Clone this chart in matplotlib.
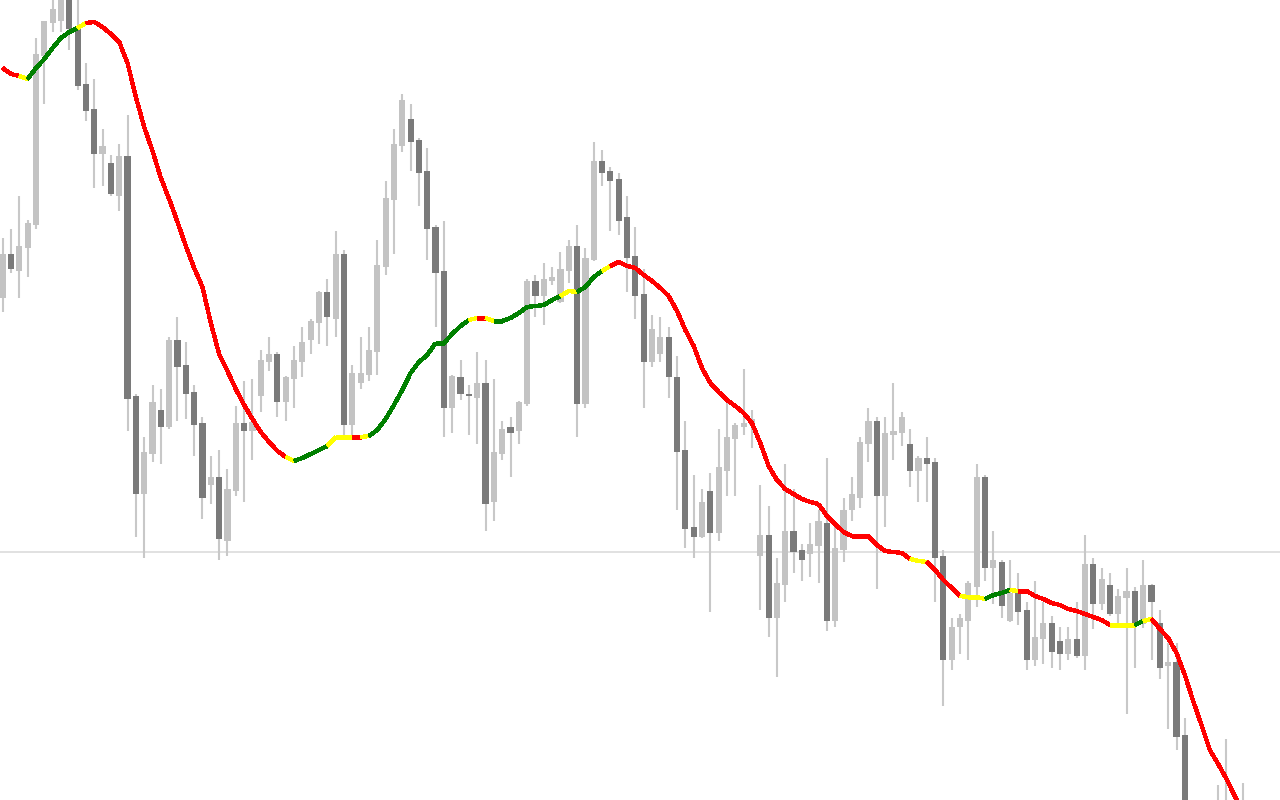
import numpy as np
import matplotlib
matplotlib.use("Agg")
import matplotlib.pyplot as plt
from matplotlib.collections import LineCollection

# OHLC per bar (arbitrary price points)
opens = [502, 546, 529, 552, 575, 744, 777, 779, 803, 772,
         716, 691, 646, 637, 604, 644, 404, 306, 346, 390,
         373, 460, 435, 408, 377, 315, 323, 259, 309, 377,
         369, 404, 438, 446, 398, 421, 438, 460, 477, 508,
         481, 546, 375, 417, 425, 448, 533, 600, 654, 681,
         660, 629, 573, 529, 392, 423, 406, 402, 417, 298,
         346, 373, 369, 396, 519, 504, 519, 498, 529, 554,
         396, 540, 639, 629, 621, 583, 544, 506, 438, 446,
         463, 423, 350, 273, 263, 309, 267, 329, 361, 373,
         375, 244, 265, 182, 215, 269, 250, 246, 254, 277,
         179, 250, 290, 302, 356, 379, 304, 365, 367, 356,
         329, 342, 338, 244, 140, 173, 179, 213, 323, 232,
         238, 179, 207, 190, 140, 161, 177, 159, 146, 161,
         144, 236, 196, 215, 186, 202, 209, 176, 215, 177,
         134, 138, 65, -30, -60, -80, -80, -30, -20, -50]
highs = [562, 571, 604, 580, 762, 779, 803, 806, 806, 804,
         737, 721, 671, 645, 656, 685, 406, 363, 415, 411,
         463, 483, 458, 415, 383, 344, 350, 331, 394, 419,
         421, 450, 463, 448, 424, 454, 473, 481, 509, 521,
         569, 550, 435, 463, 473, 560, 619, 671, 706, 696,
         662, 652, 575, 579, 425, 440, 415, 448, 440, 421,
         379, 383, 399, 521, 525, 537, 533, 548, 560, 575,
         552, 658, 650, 633, 627, 604, 573, 531, 485, 483,
         473, 444, 379, 325, 311, 327, 371, 397, 377, 431,
         390, 315, 294, 242, 336, 311, 256, 277, 290, 342,
         277, 302, 323, 363, 392, 383, 383, 417, 388, 371,
         344, 363, 342, 250, 182, 186, 219, 336, 325, 269,
         240, 240, 227, 198, 219, 198, 184, 173, 173, 198,
         265, 242, 232, 227, 211, 232, 213, 240, 216, 190,
         157, 157, 82, -5, -20, -30, 15, 61, -5, 17]
lows = [488, 527, 502, 523, 571, 696, 768, 768, 750, 710,
        679, 612, 614, 604, 589, 369, 263, 242, 338, 336,
        371, 379, 381, 344, 281, 296, 240, 244, 304, 298,
        340, 388, 429, 383, 379, 392, 423, 446, 456, 454,
        463, 365, 365, 411, 419, 425, 525, 546, 648, 629,
        594, 540, 473, 363, 367, 400, 365, 356, 269, 279,
        340, 323, 356, 394, 483, 475, 515, 497, 517, 363,
        392, 539, 614, 569, 565, 508, 481, 392, 433, 438,
        402, 290, 252, 242, 262, 188, 259, 304, 304, 365,
        352, 190, 163, 123, 198, 227, 219, 223, 217, 169,
        173, 238, 279, 292, 338, 211, 273, 340, 354, 313,
        298, 298, 198, 94, 130, 146, 140, 193, 219, 196,
        182, 178, 175, 130, 134, 136, 132, 130, 140, 142,
        130, 171, 190, 184, 176, 86, 132, 172, 140, 121,
        71, 50, -50, -80, -100, -120, -110, -80, -70, -90]
closes = [546, 531, 554, 577, 746, 779, 791, 803, 771, 714,
          689, 646, 654, 606, 644, 401, 306, 348, 398, 373,
          460, 433, 406, 375, 302, 323, 261, 311, 377, 369,
          378, 440, 446, 398, 423, 440, 458, 479, 508, 483,
          546, 375, 427, 427, 450, 535, 602, 656, 700, 658,
          627, 571, 527, 392, 424, 406, 404, 417, 296, 348,
          371, 367, 398, 519, 504, 521, 523, 531, 554, 396,
          542, 639, 627, 619, 579, 542, 504, 438, 471, 463,
          423, 348, 271, 263, 298, 267, 333, 363, 375, 377,
          381, 265, 182, 217, 269, 248, 240, 256, 279, 179,
          252, 290, 306, 358, 379, 304, 367, 369, 383, 329,
          342, 336, 242, 140, 173, 182, 217, 323, 232, 240,
          194, 207, 188, 140, 163, 177, 148, 146, 161, 144,
          236, 196, 221, 186, 204, 209, 176, 215, 198, 132,
          138, 63, -30, -60, -80, -100, -30, -10, -50, -20]

# smoothed trend line value per bar and its colour state
trend_line = [732, 726, 724, 721, 732, 741, 752, 762, 768, 772,
              777, 778, 773, 766, 758, 737, 703, 673, 649, 622,
              601, 578, 554, 532, 513, 477, 446, 429, 411, 395,
              381, 368, 358, 349, 343, 339, 342, 346, 350, 354,
              363, 363, 363, 363, 364, 370, 381, 395, 410, 427,
              438, 445, 457, 457, 466, 474, 480, 482, 482, 479,
              479, 482, 487, 493, 494, 495, 500, 504, 509, 508,
              513, 523, 529, 534, 538, 534, 532, 525, 519, 512,
              504, 489, 470, 454, 432, 417, 408, 400, 394, 387,
              377, 357, 334, 320, 311, 306, 301, 298, 296, 284,
              276, 268, 264, 264, 264, 255, 249, 248, 247, 241,
              239, 238, 230, 220, 212, 204, 203, 203, 201, 205,
              207, 210, 209, 209, 204, 201, 197, 195, 191, 189,
              186, 183, 180, 175, 175, 175, 175, 179, 181, 171,
              162, 147, 125, 99, 75, 50, 36, 21, 4, -12]
trend_state = ("RRRYGGGGGG" "YRRRRRRRRR" "RRRRRRRRRR" "RRRRRYGGGG"
               "YYYRYGGGGG" "GGGGGGGYRY" "GGGGGGGGYY" "GGGYRRRRRR"
               "RRRRRRRRRR" "RRRRRRRRRR" "RRRRRRRRRR" "YYRRRRYYYG"
               "GGYRRRRRRR" "RRRRYYYGYR" "RRRRRRRRRR")
level = 248

state_colors = {"R": "#ff0000", "G": "#008000", "Y": "#ffff00"}

o = np.array(opens, float)
h = np.array(highs, float)
l = np.array(lows, float)
c = np.array(closes, float)
x = np.arange(len(o))

fig = plt.figure(figsize=(12.8, 8), dpi=100)
ax = fig.add_axes([0, 0, 1, 1])
ax.set_facecolor("white")

ax.axhline(level, color="#dedede", lw=1.3, zorder=0.5)

# wicks
ax.vlines(x, l, h, color="#c8c8c8", lw=1.5, zorder=1)

# bodies
up = c >= o
body = c - o
body = np.where(np.abs(body) < 1.5, np.where(up, 1.5, -1.5), body)
body_col = np.where(up, "#c3c3c3", "#7a7a7a")
ax.bar(x, body, bottom=o, width=0.74, color=body_col, linewidth=0, zorder=2)

# coloured trend line
yv = np.array(trend_line, float)
segs = [[(x[i - 1], yv[i - 1]), (x[i], yv[i])] for i in range(1, len(yv))]
cols = [state_colors[s] for s in trend_state[1:len(yv)]]
lc = LineCollection(segs, colors=cols, linewidths=2.4, capstyle="butt",
                    antialiased=False, zorder=3)
ax.add_collection(lc)

ax.set_xlim(-0.32, 153.43)
ax.set_ylim(0, 800)
ax.axis("off")

fig.savefig("out.png", dpi=100, facecolor="white")
